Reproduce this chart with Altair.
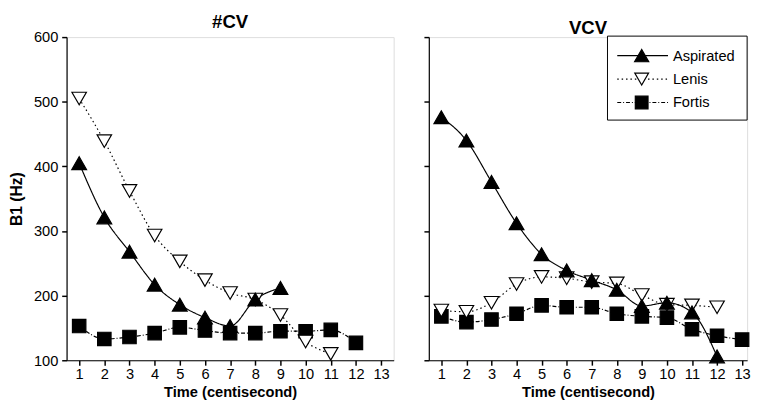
import altair as alt
import pandas as pd

FONT = "Liberation Sans"

times = list(range(1, 14))
series_names = ["Aspirated", "Lenis", "Fortis"]

# #CV panel
cv_aspirated = [405, 321, 268, 217, 186, 166, 153, 194, 212]
cv_lenis = [505, 439, 362, 293, 253, 224, 204, 194, 170, 129, 110]
cv_fortis = [153, 133, 136, 142, 151, 146, 142, 142, 145, 145, 147, 127]

# VCV panel
vcv_aspirated = [476, 440, 376, 312, 264, 239, 224, 209, 184, 189, 174, 106]
vcv_lenis = [177, 175, 189, 218, 229, 227, 221, 219, 201, 186, 185, 182]
vcv_fortis = [168, 159, 163, 172, 185, 182, 182, 172, 168, 166, 148, 138, 132]

rows = []
for panel_name, vals in [("#CV", [cv_aspirated, cv_lenis, cv_fortis]),
                         ("VCV", [vcv_aspirated, vcv_lenis, vcv_fortis])]:
    for s, v in zip(series_names, vals):
        for t, val in zip(times, v):
            rows.append({"panel": panel_name, "series": s, "time": t, "value": val})
df = pd.DataFrame(rows)

shape_of = {"Aspirated": "triangle-up", "Lenis": "triangle-down", "Fortis": "square"}
fill_of = {"Aspirated": "black", "Lenis": "white", "Fortis": "black"}
size_of = {"Aspirated": 230, "Lenis": 220, "Fortis": 190}
dash_range = [[1, 0], [1.5, 3], [4, 2, 1, 2]]
dash_scale = alt.Scale(domain=series_names, range=dash_range)


def panel(name, width, xmax, show_y, show_legend):
    d = df[df.panel == name]
    base = alt.Chart(d)
    x = alt.X("time:Q",
              scale=alt.Scale(domain=[0.5, xmax], nice=False, zero=False),
              axis=alt.Axis(values=times, title="Time (centisecond)", grid=False,
                            labelFont=FONT, labelFontSize=15, labelColor="black",
                            labelOverlap=False, labelPadding=2,
                            titleFont=FONT, titleFontSize=15, titleFontWeight="bold",
                            titleColor="black", titlePadding=3,
                            tickSize=5, tickColor="black", tickWidth=1.5,
                            domainColor="black", domainWidth=1.2))
    if show_y:
        yaxis = alt.Axis(values=[100, 200, 300, 400, 500, 600], title="B1 (Hz)", grid=False,
                         format="d", labelFont=FONT, labelFontSize=15, labelColor="black",
                         labelPadding=4,
                         titleFont=FONT, titleFontSize=16, titleFontWeight="bold",
                         titleColor="black", titlePadding=9,
                         tickSize=5, tickColor="black", tickWidth=1.5,
                         domainColor="black", domainWidth=1.2)
    else:
        yaxis = alt.Axis(values=[100, 200, 300, 400, 500, 600], title=None, grid=False,
                         labels=False, tickSize=5, tickColor="black", tickWidth=1.5,
                         domainColor="black", domainWidth=1.2)
    y = alt.Y("value:Q", scale=alt.Scale(domain=[100, 600], nice=False, zero=False),
              axis=yaxis)

    lines = base.mark_line(color="black", strokeWidth=1.2, interpolate="monotone").encode(
        x=x, y=y, detail="series:N",
        strokeDash=alt.StrokeDash("series:N", scale=dash_scale, legend=None),
    )
    layers = [lines]
    for s in ["Fortis", "Lenis", "Aspirated"]:
        layers.append(base.transform_filter(alt.datum.series == s).mark_point(
            shape=shape_of[s], filled=True, fill=fill_of[s], stroke="black",
            strokeWidth=1.2, size=size_of[s], opacity=1).encode(x=x, y=y))

    if show_legend:
        # legend box in the top-right corner of the panel
        first = base.transform_filter(alt.datum.time == 1)
        box = first.transform_filter(alt.datum.series == "Aspirated").mark_rect(
            fill="white", stroke="black", strokeWidth=1).encode(
            x=alt.value(183), x2=alt.value(width), y=alt.value(-1), y2=alt.value(85))
        layers.append(box)
        for i, s in enumerate(series_names):
            row_y = 19 + 24 * i
            one = first.transform_filter(alt.datum.series == s)
            layers.append(one.mark_rule(color="black", strokeWidth=1.2).encode(
                x=alt.value(193), x2=alt.value(245), y=alt.value(row_y),
                strokeDash=alt.StrokeDash("series:N", scale=dash_scale, legend=None)))
            layers.append(one.mark_point(
                shape=shape_of[s], filled=True, fill=fill_of[s], stroke="black",
                strokeWidth=1.2, size=size_of[s] - 20, opacity=1).encode(
                x=alt.value(218), y=alt.value(row_y)))
            layers.append(one.mark_text(
                align="left", baseline="middle", font=FONT, fontSize=15,
                color="black").encode(
                x=alt.value(250), y=alt.value(row_y), text="series:N"))

    return alt.layer(*layers).properties(
        width=width, height=331,
        title=alt.TitleParams(name, font=FONT, fontSize=19, fontWeight="bold",
                              color="black", offset=-2, anchor="middle"),
    )


left = panel("#CV", 335, 13.5, True, False)
right = panel("VCV", 326, 13.2, False, True)

chart = alt.hconcat(left, right, spacing=28).properties(
    padding={"left": 0, "top": 0, "right": 0, "bottom": 0}
).configure_view(stroke="black", strokeWidth=1.2).configure(background="white")

chart.save("out.html", embed_options={"renderer": "svg", "actions": False})
